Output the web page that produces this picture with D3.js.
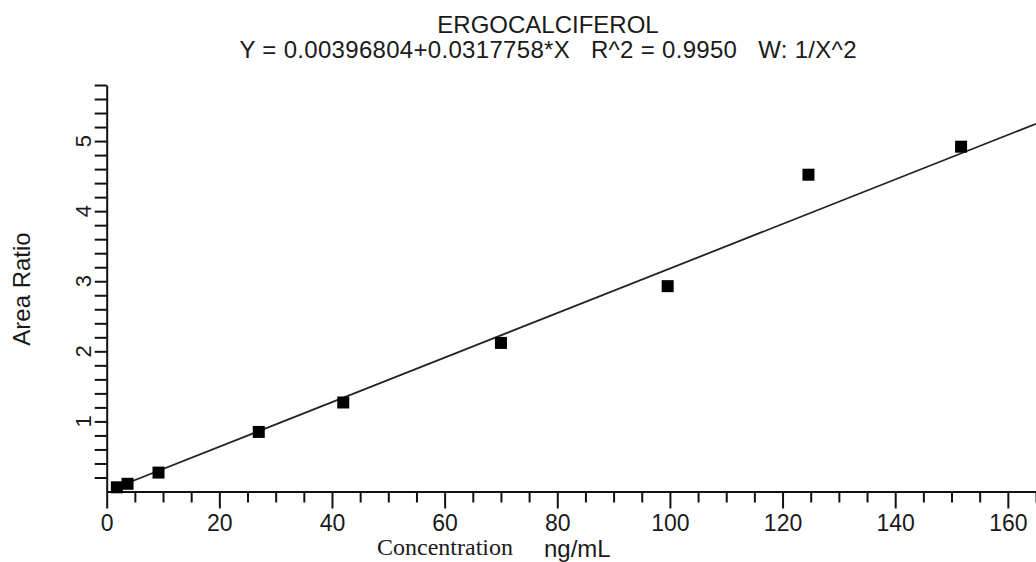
<!DOCTYPE html>
<html>
<head>
<meta charset="utf-8">
<script src="https://cdn.jsdelivr.net/npm/d3@7"></script>
<style>
  html, body { margin: 0; padding: 0; background: #fff; }
  svg { display: block; }
  .axis path, .axis line { stroke: #111; stroke-width: 2; }
</style>
</head>
<body>
<svg width="1036" height="562"></svg>
<script>
// calibration points
const concentration = [1.8, 3.7, 9.2, 27, 42, 70, 99.6, 124.6, 151.7];
const areaRatio = [0.06, 0.11, 0.27, 0.85, 1.27, 2.12, 2.93, 4.52, 4.92];

// fit from the title
const intercept = 0.00396804;
const slope = 0.0317758;

const xMajorTicks = [0, 20, 40, 60, 80, 100, 120, 140, 160];
const yMajorTicks = [1, 2, 3, 4, 5];

const titleText = "ERGOCALCIFEROL";
const equationText = "Y = 0.00396804+0.0317758*X   R^2 = 0.9950   W: 1/X^2";

const sans = "Liberation Sans, Arial, sans-serif";
const serif = "Liberation Serif, Times New Roman, serif";
const ink = "#1a1a1a";

const svg = d3.select("svg");

// set the ranges
const x = d3.scaleLinear().domain([0, 165]).range([106.7, 1036]);
const y = d3.scaleLinear().domain([0, 5.8]).range([491.5, 85]);

// minor x ticks every 5
svg.append("g")
    .attr("class", "axis")
    .attr("transform", "translate(0," + y(0) + ")")
    .call(d3.axisBottom(x)
        .tickValues(d3.range(5, 166, 5).filter(v => v % 20 !== 0))
        .tickSize(11)
        .tickSizeOuter(0)
        .tickFormat(""));

// major x ticks with labels
const xAxis = svg.append("g")
    .attr("class", "axis")
    .attr("transform", "translate(0," + y(0) + ")")
    .call(d3.axisBottom(x)
        .tickValues(xMajorTicks)
        .tickSize(17)
        .tickSizeOuter(0)
        .tickPadding(6)
        .tickFormat(d3.format("d")));
xAxis.selectAll("text")
    .attr("font-size", 23)
    .attr("font-family", sans)
    .attr("fill", ink);

// y axis, ticks every 0.2
svg.append("g")
    .attr("class", "axis")
    .attr("transform", "translate(" + x(0) + ",0)")
    .call(d3.axisLeft(y)
        .tickValues(d3.range(1, 30).map(i => +(i * 0.2).toFixed(1)))
        .tickSize(12)
        .tickSizeOuter(0)
        .tickFormat(""));

// rotated y labels at integers
svg.append("g")
    .selectAll("text")
    .data(yMajorTicks)
    .enter().append("text")
    .attr("transform", d => "translate(" + (x(0) - 16) + "," + y(d) + ") rotate(-90)")
    .attr("text-anchor", "middle")
    .attr("font-family", sans)
    .attr("font-size", 22)
    .attr("fill", ink)
    .text(d => d);

// regression line
const fitLine = d3.line()
    .x(d => x(d))
    .y(d => y(intercept + slope * d));
svg.append("path")
    .datum([d3.min(concentration), x.domain()[1]])
    .attr("d", fitLine)
    .attr("fill", "none")
    .attr("stroke", "#222")
    .attr("stroke-width", 1.8);

// points
const size = 12;
svg.selectAll(".pt")
    .data(d3.zip(concentration, areaRatio))
    .enter().append("rect")
    .attr("class", "pt")
    .attr("x", d => x(d[0]) - size / 2)
    .attr("y", d => y(d[1]) - size / 2)
    .attr("width", size)
    .attr("height", size)
    .attr("fill", "#000");

// titles
svg.append("text")
    .attr("x", 548)
    .attr("y", 33)
    .attr("text-anchor", "middle")
    .attr("font-family", sans)
    .attr("font-size", 24)
    .attr("fill", ink)
    .text(titleText);

svg.append("text")
    .attr("x", 548)
    .attr("y", 58)
    .attr("text-anchor", "middle")
    .attr("font-family", sans)
    .attr("font-size", 24)
    .attr("fill", ink)
    .attr("textLength", 617)
    .attr("lengthAdjust", "spacing")
    .style("white-space", "pre")
    .text(equationText);

// axis titles
svg.append("text")
    .attr("transform", "translate(30,289) rotate(-90)")
    .attr("text-anchor", "middle")
    .attr("font-family", sans)
    .attr("font-size", 24)
    .attr("fill", ink)
    .text("Area Ratio");

svg.append("text")
    .attr("x", 377)
    .attr("y", 555)
    .attr("font-family", serif)
    .attr("font-size", 24)
    .attr("fill", ink)
    .text("Concentration");

svg.append("text")
    .attr("x", 544)
    .attr("y", 557)
    .attr("font-family", sans)
    .attr("font-size", 24)
    .attr("fill", ink)
    .text("ng/mL");
</script>
</body>
</html>
